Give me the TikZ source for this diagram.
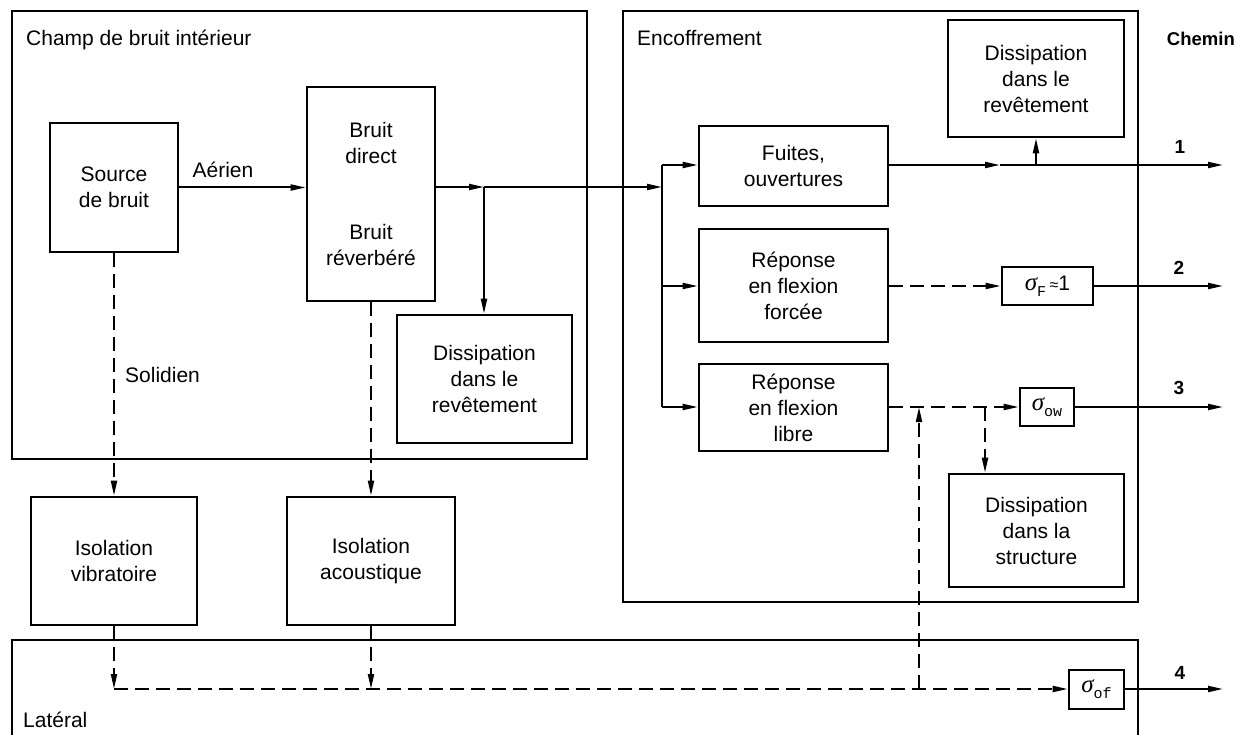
\documentclass[tikz,border=0pt]{standalone}
\usepackage{fontspec}
\setmainfont{Liberation Sans}
\newfontfamily\sigfont{Liberation Serif}
\newfontfamily\subfont{Liberation Mono}
\usetikzlibrary{arrows.meta}
\newcommand\bx[6]{\node[box,minimum width={#4pt-#2pt},minimum height={#5pt-#3pt}] (#1) at ({(#2+#4)/2},{(#3+#5)/2}) {#6};}
\newcommand\sig[1]{{\sigfont\itshape\fontsize{25}{25}\selectfont σ}\raisebox{-6pt}{\subfont\fontsize{15}{15}\selectfont #1}}
\begin{document}
\begin{tikzpicture}[x=1pt,y=-1pt,
  font=\fontsize{21}{26}\selectfont,
  frame/.style={draw, line width=2.6pt},
  box/.style={draw, line width=2.6pt, align=center, inner sep=0pt},
  conn/.style={line width=2pt, -{Triangle[length=15pt,width=6pt]}},
  plain/.style={line width=2pt},
  dsh/.style={dash pattern=on 14pt off 7pt},
  lbl/.style={inner sep=0pt},
  num/.style={inner sep=0pt, font=\fontsize{19}{19}\selectfont\bfseries}]
\useasboundingbox (0,0) rectangle (1237,735);
% frames
\draw[frame] (12,11) rectangle (587,459);
\draw[frame] (623,11) rectangle (1138,602);
\draw[frame] (12,780) -- (12,640) -- (1138,640) -- (1138,780);
\node[lbl, anchor=base west] (tchamp) at (26,46) {Champ de bruit intérieur};
\node[lbl, anchor=base west] (tenc) at (637,46) {Encoffrement};
\node[lbl, anchor=base east, font=\fontsize{18.5}{18.5}\selectfont\bfseries] (tchemin) at (1235,46) {Chemin};
\node[lbl, anchor=base west] (tlat) at (23,727) {Latéral};
% boxes
\bx{source}{50}{123}{178}{252}{Source\\de bruit}
\bx{bruit}{307}{87}{435}{301}{Bruit\\direct\\[50pt]Bruit\\réverbéré}
\bx{dissL}{397}{315}{572}{443}{Dissipation\\dans le\\revêtement}
\bx{isoV}{31}{497}{197}{625}{Isolation\\vibratoire}
\bx{isoA}{287}{497}{455}{625}{Isolation\\acoustique}
\bx{fuites}{699}{126}{888}{206}{Fuites,\\ouvertures}
\bx{forcee}{699}{229}{888}{342}{Réponse\\en flexion\\forcée}
\bx{libre}{699}{364}{888}{451}{Réponse\\en flexion\\libre}
\bx{dissTR}{948}{20}{1124}{137}{Dissipation\\dans le\\revêtement}
\bx{dissS}{949}{474}{1124}{587}{Dissipation\\dans la\\structure}
\bx{sigF}{1002}{267}{1093}{305}{\sig{F}\,{\fontsize{16}{16}\selectfont≈}1}
\bx{sigOW}{1020}{388}{1074}{426}{\sig{ow}}
\bx{sigOF}{1069}{670}{1124}{709}{\sig{of}}
% labels
\node[lbl] (taer) at (223,170) {Aérien};
\node[lbl, anchor=west] (tsol) at (125,375) {Solidien};
\node[num] (n1) at (1180,147) {1};
\node[num] (n2) at (1179,268) {2};
\node[num] (n3) at (1179,388) {3};
\node[num] (n4) at (1180,673) {4};
% coordinates
\coordinate (j1) at (484,187);
\coordinate (j2) at (662,187);
\coordinate (v1) at (662,165);
\coordinate (v2) at (662,286);
\coordinate (v3) at (662,407);
\coordinate (m1) at (1000,165);
\coordinate (u1) at (1036,165);
\coordinate (e1) at (1223,165);
\coordinate (e2) at (1223,286);
\coordinate (e3) at (1223,407);
\coordinate (e4) at (1223,689);
\coordinate (h0) at (114,689);
\coordinate (a3) at (919,407);
\coordinate (a4) at (919,689);
\coordinate (d3) at (985,407);
% connectors
\draw[conn] (source.east) -- (source.east -| bruit.west);
\draw[conn] (bruit.east |- j1) -- (j1);
\draw[conn] (j1) -- (j2);
\draw[conn] (j1) -- (j1 |- dissL.north);
\draw[plain] (v1) -- (v3);
\draw[conn] (v1) -- (v1 -| fuites.west);
\draw[conn] (v2) -- (v2 -| forcee.west);
\draw[conn] (v3) -- (v3 -| libre.west);
\draw[conn] (v1 -| fuites.east) -- (m1);
\draw[conn] (m1) -- (e1);
\draw[conn] (u1) -- (u1 |- dissTR.south);
\draw[conn,dsh] (v2 -| forcee.east) -- (v2 -| sigF.west);
\draw[conn] (v2 -| sigF.east) -- (e2);
\draw[conn,dsh] (v3 -| libre.east) -- (v3 -| sigOW.west);
\draw[conn] (v3 -| sigOW.east) -- (e3);
\draw[conn,dsh] (a4) -- (a3);
\draw[conn,dsh] (d3) -- (d3 |- dissS.north);
\draw[conn,dsh] (h0) -- (h0 -| sigOF.west);
\draw[conn] (h0 -| sigOF.east) -- (e4);
\draw[conn,dsh] (isoV.south) -- (h0);
\draw[conn,dsh] (isoA.south) -- (isoA.south |- h0);
\draw[conn,dsh] (source.south) -- (isoV.north);
\draw[conn,dsh] (bruit.south) -- (isoA.north);
\end{tikzpicture}
\end{document}
